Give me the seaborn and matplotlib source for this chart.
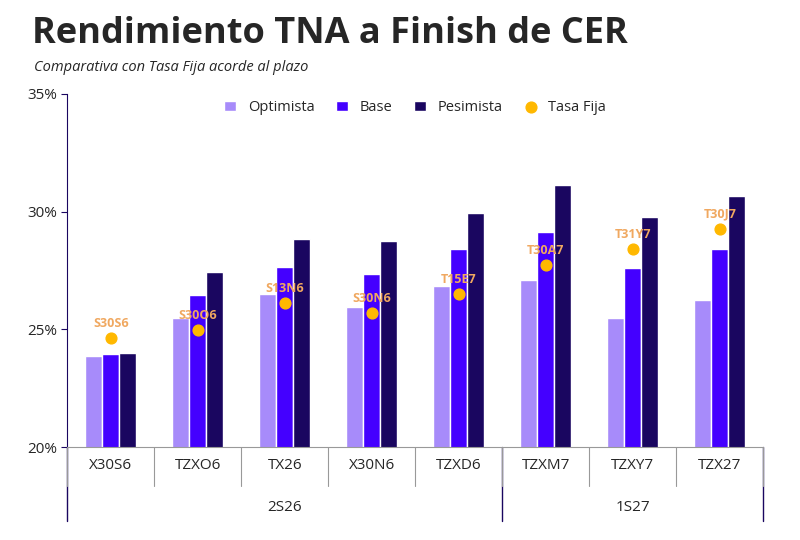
import pandas as pd
import matplotlib.pyplot as plt
import seaborn as sns

bonos = ['X30S6', 'TZXO6', 'TX26', 'X30N6', 'TZXD6', 'TZXM7', 'TZXY7', 'TZX27']
optimista = [23.87, 25.48, 26.50, 25.95, 26.84, 27.10, 25.48, 26.25]
base = [23.95, 26.46, 27.65, 27.35, 28.41, 29.14, 27.60, 28.41]
pesimista = [24.00, 27.44, 28.84, 28.75, 29.94, 31.13, 29.77, 30.67]
tasa_fija = [24.63, 24.97, 26.12, 25.70, 26.50, 27.73, 28.41, 29.26]
fija_nombres = ['S30S6', 'S30O6', 'S13N6', 'S30N6', 'T15E7', 'T30A7', 'T31Y7', 'T30J7']
semestres = ['2S26', '1S27']
semestre_n = [5, 3]

df = pd.DataFrame({'bono': bonos, 'Optimista': optimista, 'Base': base, 'Pesimista': pesimista})
df = df.melt(id_vars='bono', var_name='escenario', value_name='tna')

sns.set_style('white')
plt.rcParams['font.family'] = ['Open Sans', 'DejaVu Sans']

fig = plt.figure(figsize=(8, 5.4), dpi=100)
ax = fig.add_axes([0.084, 0.172, 0.87, 0.654])
colores = ['#a78bfa', '#4400ff', '#1a0660']
sns.barplot(data=df, x='bono', y='tna', hue='escenario', palette=colores,
            width=0.58, ax=ax, saturation=1)
ax.scatter(range(len(bonos)), tasa_fija, color='#ffb800', s=60, zorder=5, label='Tasa Fija')
for i, (v, n) in enumerate(zip(tasa_fija, fija_nombres)):
    ax.text(i, v + 0.35, n, ha='center', va='bottom', color='#f0a860',
            fontsize=9, fontweight='bold', zorder=6)

ax.set_ylim(20, 35)
ax.set_yticks([20, 25, 30, 35])
ax.set_yticklabels(['20%', '25%', '30%', '35%'], fontsize=11)
ax.tick_params(axis='y', length=4, color='#1a0660', left=True)
ax.tick_params(axis='x', labelsize=11, length=0, pad=8)
ax.set_xlabel('')
ax.set_ylabel('')
for s in ['top', 'right']:
    ax.spines[s].set_visible(False)
ax.spines['left'].set_color('#1a0660')
ax.spines['bottom'].set_color('#999999')
ax.set_xlim(-0.5, len(bonos) - 0.5)
ax.legend(loc='upper center', ncol=4, frameon=False, fontsize=10.5,
          bbox_to_anchor=(0.5, 1.02), handlelength=0.8, columnspacing=1.5)

# group labels below axis
trans = ax.get_xaxis_transform()
start = 0
for sem, n in zip(semestres, semestre_n):
    ax.text(start + (n - 1) / 2, -0.18, sem, transform=trans, ha='center', fontsize=11)
    start += n
for x in [-0.5, 4.5, 7.5]:
    ax.plot([x, x], [0, -0.21], transform=trans, color='#1a0660', lw=1, clip_on=False)
for x in [-0.5, 0.5, 1.5, 2.5, 3.5, 4.5, 5.5, 6.5, 7.5]:
    ax.plot([x, x], [0, -0.11], transform=trans, color='#999999', lw=0.8, clip_on=False)

fig.text(0.04, 0.92, 'Rendimiento TNA a Finish de CER', fontsize=26, fontweight='bold')
fig.text(0.042, 0.868, 'Comparativa con Tasa Fija acorde al plazo', fontsize=10.5, style='italic')

plt.savefig('out.png')
